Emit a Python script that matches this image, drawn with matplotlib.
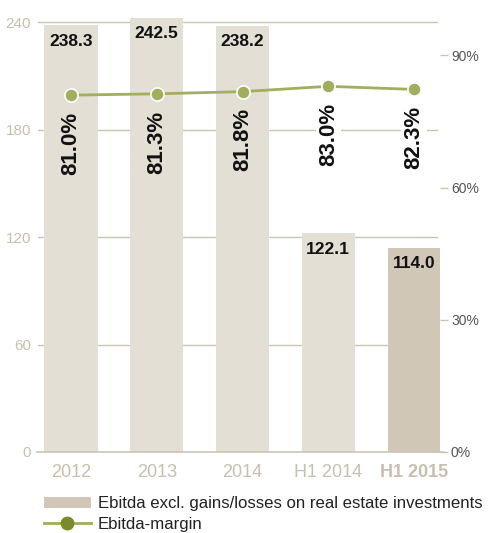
import numpy as np
import matplotlib.pyplot as plt
from matplotlib.patches import Patch
from matplotlib.lines import Line2D

plt.rcParams['font.family'] = ['Liberation Sans', 'DejaVu Sans']

periods = ["2012", "2013", "2014", "H1 2014", "H1 2015"]
ebitda = [238.3, 242.5, 238.2, 122.1, 114.0]
margin = [81.0, 81.3, 81.8, 83.0, 82.3]
left_ticks = [0, 60, 120, 180, 240]
right_ticks = [0, 30, 60, 90]

bar_light = "#e4dfd5"
bar_dark = "#d0c7b7"
grid_col = "#cdc3b3"
tick_col = "#c9bfae"
line_col = "#a1ae5c"
marker_leg = "#7a8b2c"

fig = plt.figure(figsize=(4.92, 5.33), dpi=100)
ax = fig.add_axes([0.077, 0.152, 0.817, 0.816])
x = np.arange(len(periods))
colors = [bar_light] * 4 + [bar_dark]

ax.set_xlim(-0.385, 4.3)
ax.set_ylim(0, 243)
for t in left_ticks[1:]:
    ax.axhline(t, xmin=0, xmax=0.993, color=grid_col, lw=1, zorder=0)
ax.axhline(0, xmin=-0.003, xmax=1.01, color=grid_col, lw=1.2, zorder=3, clip_on=False)
bars = ax.bar(x, ebitda, width=0.62, color=colors, zorder=2)
for xi, v in zip(x, ebitda):
    ax.annotate(f"{v:.1f}", (xi, v), xytext=(0, -6), textcoords="offset points",
                ha="center", va="top", fontsize=12.5, fontweight="bold", color="#111111", zorder=4)

for s in ax.spines.values():
    s.set_visible(False)
ax.set_yticks(left_ticks)
ax.set_yticklabels([str(t) for t in left_ticks])
ax.tick_params(axis="y", colors=grid_col, labelcolor=tick_col, labelsize=11, length=0, pad=5)
ax.set_xticks(x)
ax.set_xticklabels(periods)
ax.tick_params(axis="x", length=0, labelsize=13, labelcolor=tick_col, pad=9)
ax.get_xticklabels()[-1].set_fontweight("bold")

ax2 = ax.twinx()
ax2.set_ylim(0, 243 * (430 / 240) / 4.41)
for s in ax2.spines.values():
    s.set_visible(False)
ax2.set_yticks(right_ticks)
ax2.set_yticklabels([f"{t}%" for t in right_ticks])
ax2.tick_params(axis="y", colors=grid_col, labelcolor="#555555", labelsize=10, length=6, pad=2, width=1)
ax2.plot(x, margin, color=line_col, lw=2, marker="o", ms=9.5, mfc=line_col, mec="white", mew=1.2, zorder=5)
for i, (xi, m) in enumerate(zip(x, margin)):
    bg = bar_light if ebitda[i] * (430 / 240) / 4.41 > m - 25 else "white"
    ax2.annotate(f"{m:.1f}%", (xi, m), xytext=(0, -12), textcoords="offset points",
                 ha="center", va="top", rotation=90, fontsize=16, fontweight="bold", color="#111111",
                 bbox=dict(boxstyle="square,pad=0.1", fc=bg, ec="none"))

handles = [Patch(facecolor=bar_dark, edgecolor="none"),
           Line2D([0], [0], color=line_col, lw=2, marker="o", ms=9, mfc=marker_leg, mec=marker_leg)]
fig.legend(handles, ["Ebitda excl. gains/losses on real estate investments", "Ebitda-margin"],
           loc="upper left", bbox_to_anchor=(0.089, 0.069), frameon=False, fontsize=12.1,
           handlelength=2.8, handleheight=0.6, handletextpad=0.4, labelspacing=0.35,
           borderpad=0, borderaxespad=0, labelcolor="#222222")

fig.savefig("out.png", dpi=100)
